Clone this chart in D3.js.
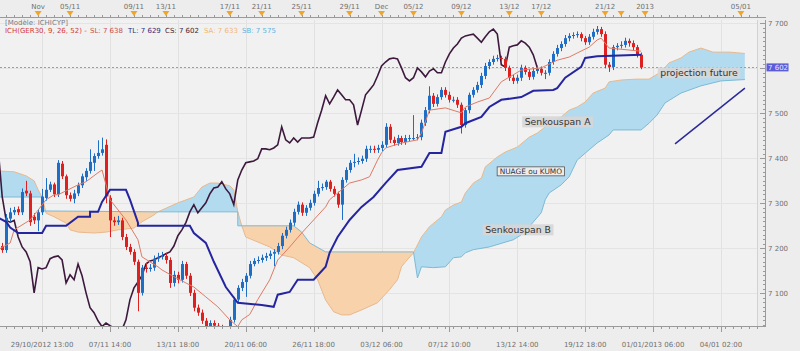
<!DOCTYPE html>
<html><head><meta charset="utf-8">
<script src="https://cdn.jsdelivr.net/npm/d3@7"></script>
<style>
body{margin:0;background:#ededed}
svg{display:block}
text{font-family:"DejaVu Sans",Verdana,sans-serif}
</style></head>
<body><svg id="chart" width="800" height="351"></svg>
<script>
// ---------- DATA ----------
const closes=[7200,7196,7268,7280,7285,7280,7325,7322,7258,7262,
7280,7315,7330,7342,7320,7390,7360,7318,7310,7322,
7340,7360,7372,7392,7405,7412,7420,7315,7262,7258,
7262,7225,7203,7192,7170,7101,7157,7154,7157,7177,
7181,7183,7174,7123,7141,7130,7165,7139,7101,7068,
7057,7039,7026,7034,7028,7023,7019,7019,7041,7086,
7112,7125,7139,7165,7172,7174,7179,7183,7188,7192,
7205,7228,7241,7257,7281,7297,7279,7290,7301,7321,
7334,7336,7348,7332,7321,7297,7352,7374,7390,7392,
7394,7399,7421,7421,7419,7423,7430,7470,7441,7434,
7445,7436,7445,7445,7445,7447,7479,7507,7539,7521,
7536,7552,7541,7530,7530,7519,7474,7507,7541,7552,
7563,7583,7605,7614,7621,7623,7621,7601,7579,7572,
7579,7601,7592,7581,7594,7599,7590,7590,7614,7632,
7645,7654,7667,7672,7674,7676,7667,7658,7670,7681,
7687,7676,7608,7603,7647,7650,7652,7661,7656,7647,
7630,7602];
const opens=[7215,7205,7196,7266,7280,7287,7280,7328,7322,7270,
7262,7280,7312,7330,7342,7320,7388,7360,7318,7310,
7322,7340,7358,7372,7390,7405,7412,7430,7312,7262,
7258,7262,7225,7203,7192,7170,7101,7157,7154,7157,
7177,7181,7183,7174,7123,7141,7130,7165,7139,7101,
7068,7057,7039,7026,7034,7028,7023,7019,7019,7041,
7086,7112,7125,7139,7165,7172,7174,7179,7183,7188,
7192,7205,7228,7241,7257,7281,7297,7279,7290,7301,
7321,7334,7336,7348,7332,7321,7297,7352,7374,7390,
7392,7394,7399,7421,7421,7419,7423,7430,7470,7441,
7434,7445,7436,7445,7445,7445,7447,7479,7507,7539,
7521,7536,7552,7541,7530,7530,7519,7474,7507,7541,
7552,7563,7583,7605,7614,7621,7623,7621,7601,7579,
7572,7579,7601,7592,7581,7594,7599,7590,7590,7614,
7632,7645,7654,7667,7672,7674,7676,7667,7658,7670,
7681,7687,7676,7608,7603,7647,7650,7652,7661,7656,
7647,7630];
const highs=[7222,7212,7276,7290,7292,7293,7333,7350,7328,7278,
7286,7332,7356,7348,7346,7396,7394,7364,7324,7330,
7346,7366,7378,7420,7411,7440,7446,7442,7318,7270,
7272,7268,7232,7210,7198,7175,7163,7168,7165,7184,
7190,7192,7190,7180,7150,7148,7172,7170,7145,7108,
7075,7064,7045,7040,7040,7034,7030,7026,7048,7092,
7118,7132,7145,7172,7178,7182,7186,7190,7195,7198,
7212,7234,7248,7264,7288,7304,7302,7296,7308,7328,
7350,7344,7352,7352,7338,7326,7358,7380,7396,7410,
7402,7406,7428,7428,7428,7430,7438,7478,7476,7448,
7452,7450,7452,7452,7496,7454,7486,7514,7560,7545,
7542,7558,7558,7548,7537,7536,7524,7512,7546,7558,
7570,7590,7612,7620,7628,7630,7628,7626,7606,7585,
7586,7608,7606,7598,7600,7606,7604,7596,7620,7638,
7652,7660,7674,7678,7680,7682,7680,7672,7676,7688,
7694,7692,7682,7614,7652,7656,7660,7668,7666,7662,
7652,7635];
const lows=[7194,7190,7190,7258,7274,7274,7274,7316,7250,7254,
7238,7274,7306,7325,7314,7314,7354,7310,7304,7300,
7316,7334,7350,7366,7372,7399,7406,7300,7225,7250,
7252,7218,7196,7186,7163,7060,7095,7146,7148,7150,
7170,7175,7166,7112,7115,7122,7124,7132,7094,7060,
7050,7032,7018,7020,7021,7016,7012,7012,7012,7035,
7080,7105,7092,7133,7160,7166,7168,7172,7176,7160,
7186,7198,7222,7235,7250,7275,7272,7272,7284,7295,
7315,7328,7330,7326,7315,7290,7263,7346,7368,7380,
7386,7388,7392,7412,7412,7412,7416,7424,7434,7428,
7428,7430,7430,7438,7440,7440,7440,7472,7500,7514,
7515,7530,7535,7524,7524,7512,7455,7468,7500,7535,
7546,7556,7576,7598,7608,7615,7614,7594,7572,7565,
7566,7572,7586,7574,7575,7588,7584,7576,7584,7608,
7626,7638,7648,7660,7666,7668,7660,7652,7652,7664,
7675,7670,7600,7592,7596,7640,7644,7646,7648,7640,
7624,7598];
// Ichimoku lines as [bar, value]
const tenkan=[[0,7197],[3,7212],[4,7241],[8,7263],[10,7285],[12,7308],[14,7319],[15,7319],[20,7341],[22,7348],[25,7368],[26,7374],[28,7308],[32,7263],[35,7219],[36,7181],[40,7159],[41,7152],[44,7137],[47,7123],[49,7114],[52,7092],[55,7070],[58,7041],[60,7026],[61,7041],[63,7053],[65,7086],[68,7130],[70,7174],[73,7203],[76,7234],[79,7263],[82,7292],[83,7308],[86,7330],[88,7345],[91,7352],[93,7359],[95,7396],[96,7412],[97,7423],[101,7434],[105,7441],[106,7456],[108,7507],[112,7512],[116,7501],[117,7514],[120,7525],[123,7534],[126,7570],[131,7596],[136,7601],[140,7618],[143,7625],[145,7634],[148,7647],[150,7663],[151,7667],[153,7645],[161,7638]];
const kijun=[[0,7268],[2,7259],[3,7246],[5,7234],[11,7234],[12,7250],[17,7250],[20,7270],[23,7270],[23,7281],[25,7281],[26,7303],[28,7330],[32,7330],[33,7308],[35,7257],[35,7250],[48,7250],[49,7234],[52,7212],[54,7170],[57,7114],[60,7079],[66,7074],[69,7070],[70,7097],[73,7103],[75,7130],[79,7130],[82,7159],[83,7190],[85,7225],[88,7263],[91,7292],[94,7314],[97,7345],[100,7374],[106,7381],[108,7412],[111,7412],[112,7459],[116,7470],[117,7478],[121,7492],[123,7514],[126,7530],[131,7536],[134,7550],[139,7552],[140,7556],[142,7579],[146,7603],[147,7623],[150,7627],[161,7630]];
const senkouA=[[0,7372],[4,7370],[7,7361],[9,7350],[10,7330],[11,7314],[12,7278],[14,7270],[17,7256],[18,7241],[20,7236],[24,7234],[27,7236],[30,7241],[34,7245],[36,7259],[39,7274],[40,7281],[45,7301],[49,7314],[51,7336],[53,7345],[55,7345],[58,7339],[59,7330],[60,7281],[61,7250],[62,7225],[65,7214],[68,7203],[71,7185],[74,7179],[78,7157],[80,7130],[82,7085],[84,7059],[86,7052],[88,7052],[91,7063],[95,7079],[98,7108],[100,7130],[101,7159],[102,7170],[104,7190],[106,7225],[108,7248],[111,7270],[112,7285],[114,7296],[116,7303],[117,7323],[119,7345],[121,7356],[122,7381],[125,7403],[127,7414],[130,7425],[133,7447],[135,7456],[137,7470],[141,7492],[143,7507],[145,7514],[147,7525],[149,7545],[152,7556],[153,7570],[156,7574],[160,7576],[163,7576],[166,7592],[168,7612],[171,7623],[173,7636],[176,7645],[179,7636],[183,7636],[187,7633]];
const senkouB=[[0,7314],[11,7314],[11,7283],[40,7281],[60,7281],[60,7250],[74,7250],[76,7236],[78,7212],[81,7197],[82,7192],[104,7192],[105,7134],[106,7159],[109,7157],[112,7159],[114,7179],[116,7181],[117,7190],[119,7197],[123,7203],[129,7219],[131,7230],[133,7248],[136,7279],[137,7308],[138,7323],[141,7341],[143,7359],[145,7396],[148,7419],[150,7434],[153,7452],[154,7463],[161,7463],[163,7478],[165,7496],[167,7523],[171,7545],[176,7561],[181,7572],[187,7575]];
const chikouShift=26;
const priceTicks=[7100,7200,7300,7400,7500,7600,7700];
const lastPrice=7602;
const topTicks=[[10,"Nov"],[18,"05/11"],[34,"09/11"],[42,"13/11"],[58,"17/11"],[66,"21/11"],[76,"25/11"],[88,"29/11"],[96,"Dec"],[104,"05/12"],[116,"09/12"],[128,"13/12"],[136,"17/12"],[152,"21/12"],[156,""],[162,"2013"],[186,"05/01"]];
const bottomTicks=[[11,"29/10/2012 13:00"],[28,"07/11 14:00"],[45,"13/11 18:00"],[62,"20/11 06:00"],[79,"26/11 18:00"],[96,"03/12 06:00"],[113,"07/12 10:00"],[130,"13/12 14:00"],[147,"19/12 18:00"],[164,"01/01/2013 06:00"],[181,"04/01 02:00"]];
const legendTitle="[Modèle: ICHICYP]";
const legendItems=[["ICH(GER30, 9, 26, 52) -","#d23a3a"],["SL: 7 638","#c85050"],["TL: 7 629","#2e2e80"],["CS: 7 602","#3a2438"],["SA: 7 633","#f2b774"],["SB: 7 575","#5fb2e0"]];
const labels=[{t:"projection future",b:175.5,v:7590,box:true},{t:"Senkouspan A",b:140.1,v:7481,box:true},{t:"Senkouspan B",b:130.2,v:7241,box:true},{t:"NUAGE ou KUMO",b:133.4,v:7371,frame:true}];
const trendLine=[[169.5,7432],[187,7556]];

// ---------- LAYOUT ----------
const svg=d3.select("#chart");
const W=800,H=351;
const plot={l:0,r:757,t:20,b:326};
const x=d3.scaleLinear().domain([0,200]).range([-1.8,796.8]);
const y=d3.scaleLinear().domain([7100,7700]).range([293.3,23.3]);

svg.append("rect").attr("width",W).attr("height",H).attr("fill","#ededed");
svg.append("rect").attr("x",plot.l).attr("y",plot.t).attr("width",plot.r-plot.l).attr("height",plot.b-plot.t).attr("fill","#f1f1f1");

const defs=svg.append("defs");
defs.append("clipPath").attr("id","plotclip").append("rect").attr("x",plot.l).attr("y",plot.t).attr("width",plot.r-plot.l).attr("height",plot.b-plot.t);

const areaTop=d3.area().x(d=>x(d[0])).y0(-1000).y1(d=>y(d[1]));
const areaBot=d3.area().x(d=>x(d[0])).y0(d=>y(d[1])).y1(2000);
defs.append("clipPath").attr("id","aboveB").append("path").attr("d",areaTop(senkouB));
defs.append("clipPath").attr("id","aboveA").append("path").attr("d",areaTop(senkouA));

const g=svg.append("g").attr("clip-path","url(#plotclip)");

// grid
g.selectAll(".vg").data(bottomTicks).join("line")
 .attr("x1",d=>Math.round(x(d[0]))+0.5).attr("x2",d=>Math.round(x(d[0]))+0.5)
 .attr("y1",plot.t).attr("y2",plot.b).attr("stroke","#e1e1e1").attr("stroke-width",1);
g.selectAll(".hg").data(priceTicks).join("line")
 .attr("x1",plot.l).attr("x2",plot.r)
 .attr("y1",d=>Math.round(y(d))+0.5).attr("y2",d=>Math.round(y(d))+0.5)
 .attr("stroke","#e4e4e4").attr("stroke-width",1);

// cloud
g.append("g").attr("clip-path","url(#aboveB)").append("path").attr("d",areaBot(senkouA)).attr("fill","#b3dbf0");
g.append("g").attr("clip-path","url(#aboveA)").append("path").attr("d",areaBot(senkouB)).attr("fill","#f7d2ab");
const line=d3.line().x(d=>x(d[0])).y(d=>y(d[1]));
g.append("path").attr("d",line(senkouA)).attr("fill","none").attr("stroke","#e9b98c").attr("stroke-width",1);
g.append("path").attr("d",line(senkouB)).attr("fill","none").attr("stroke","#7bbad6").attr("stroke-width",1);

// last price dotted line
g.append("line").attr("x1",plot.l).attr("x2",plot.r).attr("y1",Math.round(y(lastPrice))+0.5).attr("y2",Math.round(y(lastPrice))+0.5)
 .attr("stroke","#9a9ab0").attr("stroke-dasharray","2,2").attr("stroke-width",1);

// chikou (closes shifted back)
const chikou=closes.slice(chikouShift).map((c,j)=>[j,c]);
g.append("path").attr("d",line(chikou)).attr("fill","none").attr("stroke","#3d1a3d").attr("stroke-width",1.6);

// candles
const up="#1f6ec6",dn="#df2020";
const cg=g.append("g");
closes.forEach((c,i)=>{
  const o=opens[i],col=c>=o?up:dn,cx=Math.round(x(i))+0.5;
  cg.append("line").attr("x1",cx).attr("x2",cx).attr("y1",y(highs[i])).attr("y2",y(lows[i])).attr("stroke",col).attr("stroke-width",1);
  const yt=y(Math.max(o,c)),yb=y(Math.min(o,c));
  cg.append("rect").attr("x",cx-1.5).attr("y",yt).attr("width",3).attr("height",Math.max(1,yb-yt)).attr("fill",col);
});

// tenkan & kijun
g.append("path").attr("d",line(tenkan)).attr("fill","none").attr("stroke","#df7a66").attr("stroke-width",1);
g.append("path").attr("d",line(kijun)).attr("fill","none").attr("stroke","#2525a0").attr("stroke-width",2);

// annotation trend line
g.append("path").attr("d",line(trendLine)).attr("fill","none").attr("stroke","#2a2a98").attr("stroke-width",1.5);

// annotation labels
labels.forEach(L=>{
  const cx=x(L.b),cy=y(L.v);
  const fs=L.frame?7.4:9.3;
  const t=g.append("text").attr("x",cx).attr("y",cy+fs*0.36).attr("text-anchor","middle").attr("font-size",fs).attr("fill","#333").text(L.t);
  const w=t.node().getComputedTextLength();
  const bh=L.frame?9:11;
  const r=g.insert("rect",()=>t.node()).attr("x",cx-w/2-2.5).attr("y",cy-bh/2).attr("width",w+5).attr("height",bh);
  if(L.frame) r.attr("fill","#ececec").attr("stroke","#555").attr("stroke-width",0.8);
  else r.attr("fill","#d6d6d6").attr("opacity",0.9);
});

// plot right edge
svg.append("line").attr("x1",plot.r+0.5).attr("x2",plot.r+0.5).attr("y1",plot.t).attr("y2",plot.b).attr("stroke","#d2d2d2");

// ---------- AXES ----------
const axCol="#9a9a9a",txtCol="#707070";
// top ruler
svg.append("line").attr("x1",0).attr("x2",766).attr("y1",17.5).attr("y2",17.5).attr("stroke",axCol);
const minor=d3.range(0,192,2);
svg.selectAll(".tt").data(minor).join("line").attr("x1",d=>Math.round(x(d))+0.5).attr("x2",d=>Math.round(x(d))+0.5)
 .attr("y1",15).attr("y2",17.5).attr("stroke",axCol);
svg.selectAll(".tl").data(topTicks.filter(d=>d[1])).join("text").attr("x",d=>x(d[0])).attr("y",8.5).attr("text-anchor","middle")
 .attr("font-size",7).attr("fill",txtCol).text(d=>d[1]);
svg.selectAll(".tri").data(topTicks).join("path")
 .attr("d",d=>{const cx=x(d[0]);return `M${cx-3.5},11 L${cx+3.5},11 L${cx},16 Z`;}).attr("fill","#f0a428");

// bottom ruler
svg.append("line").attr("x1",0).attr("x2",766).attr("y1",326.5).attr("y2",326.5).attr("stroke",axCol);
svg.selectAll(".bt").data(minor).join("line").attr("x1",d=>Math.round(x(d))+0.5).attr("x2",d=>Math.round(x(d))+0.5)
 .attr("y1",326.5).attr("y2",329).attr("stroke",axCol);
svg.selectAll(".btm").data(bottomTicks).join("line").attr("x1",d=>Math.round(x(d[0]))+0.5).attr("x2",d=>Math.round(x(d[0]))+0.5)
 .attr("y1",326.5).attr("y2",332).attr("stroke",axCol);
svg.selectAll(".bl").data(bottomTicks).join("text").attr("y",346.5).attr("font-size",7).attr("fill",txtCol)
 .attr("text-anchor","middle").attr("x",d=>x(d[0])).text(d=>d[1])
 .each(function(d){const w=this.getComputedTextLength();const cx=x(d[0]);if(cx-w/2<1){d3.select(this).attr("text-anchor","start").attr("x",1);}});

// right axis
svg.append("line").attr("x1",765.5).attr("x2",765.5).attr("y1",plot.t).attr("y2",plot.b).attr("stroke",axCol);
svg.selectAll(".rm").data(d3.range(7030,7710,10)).join("line").attr("x1",d=>d%100===0?760:763).attr("x2",765.5)
 .attr("y1",d=>Math.round(y(d))+0.5).attr("y2",d=>Math.round(y(d))+0.5).attr("stroke",axCol);
svg.selectAll(".rl").data(priceTicks.filter(d=>Math.abs(d-lastPrice)>15)).join("text").attr("x",768).attr("y",d=>y(d)+2.5)
 .attr("font-size",7).attr("fill",txtCol).text(d=>d3.format(",")(d).replace(","," "));
svg.append("rect").attr("x",766.5).attr("y",y(lastPrice)-4).attr("width",22).attr("height",8).attr("fill","#5c5cd8");
svg.append("text").attr("x",768).attr("y",y(lastPrice)+2.5).attr("font-size",7).attr("fill","#e8e8ff").text(d3.format(",")(lastPrice).replace(","," "));

// legend
svg.append("text").attr("x",5).attr("y",25).attr("font-size",7).attr("fill","#7a7a86").text(legendTitle);
const lx=[5,90,128,165,204,242];
legendItems.forEach((d,i)=>svg.append("text").attr("x",lx[i]).attr("y",32.5).attr("font-size",7).attr("fill",d[1]).text(d[0]));
</script></body></html>
